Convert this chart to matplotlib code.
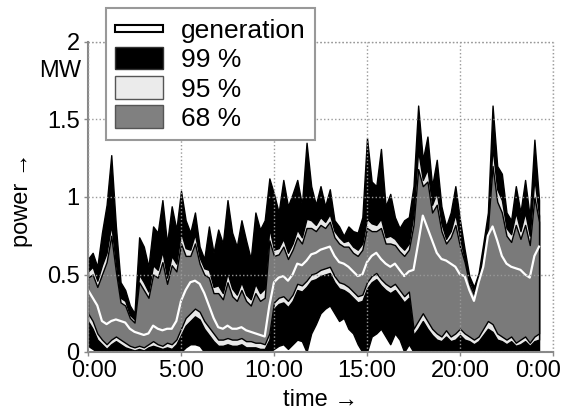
import numpy as np
import matplotlib
matplotlib.use('Agg')
import matplotlib.pyplot as plt
import matplotlib.patches as mpatches
import matplotlib.transforms as mtransforms
from matplotlib.legend_handler import HandlerPatch

plt.rcParams['font.family'] = ['Liberation Sans', 'DejaVu Sans']

# generation (white line) and quantile bands, 15 min steps from 0:00
gen = [0.40, 0.35, 0.30, 0.20, 0.18, 0.20, 0.21, 0.20, 0.19, 0.15,
       0.13, 0.12, 0.11, 0.12, 0.17, 0.15, 0.14, 0.15, 0.15, 0.20,
       0.33, 0.40, 0.45, 0.46, 0.44, 0.38, 0.30, 0.22, 0.16, 0.15,
       0.17, 0.15, 0.15, 0.16, 0.14, 0.13, 0.12, 0.11, 0.10, 0.30,
       0.45, 0.48, 0.49, 0.46, 0.50, 0.57, 0.56, 0.59, 0.63, 0.64,
       0.66, 0.67, 0.68, 0.62, 0.58, 0.57, 0.55, 0.52, 0.49, 0.50,
       0.58, 0.62, 0.64, 0.60, 0.57, 0.55, 0.57, 0.53, 0.49, 0.52,
       0.53, 0.70, 0.88, 0.80, 0.72, 0.64, 0.60, 0.59, 0.57, 0.55,
       0.50, 0.49, 0.40, 0.33, 0.45, 0.55, 0.75, 0.81, 0.72, 0.62,
       0.57, 0.55, 0.54, 0.53, 0.50, 0.48, 0.62, 0.68]

hi99 = [0.60, 0.64, 0.55, 0.77, 0.95, 1.27, 0.81, 0.45, 0.40, 0.30,
        0.25, 0.74, 0.68, 0.55, 0.81, 0.77, 0.98, 0.70, 0.94, 0.79,
        1.04, 0.85, 0.77, 0.90, 0.68, 0.60, 0.81, 0.64, 0.79, 0.70,
        0.98, 0.77, 0.68, 0.85, 0.72, 0.60, 0.90, 0.79, 0.85, 1.12,
        1.02, 0.90, 1.11, 0.94, 1.02, 1.11, 0.95, 1.35, 1.07, 0.95,
        1.07, 0.94, 1.05, 0.85, 0.81, 0.75, 0.81, 0.78, 0.77, 0.87,
        1.38, 1.10, 1.07, 1.31, 0.94, 1.02, 0.87, 0.80, 0.85, 0.87,
        1.07, 1.59, 1.24, 1.39, 1.07, 1.24, 0.94, 0.81, 0.90, 1.07,
        0.85, 0.66, 0.49, 0.42, 0.51, 0.70, 0.90, 1.59, 1.20, 1.15,
        0.90, 0.85, 1.07, 0.90, 1.11, 0.87, 1.37, 0.98]

hi95 = [0.52, 0.55, 0.46, 0.56, 0.64, 0.82, 0.57, 0.35, 0.33, 0.24,
        0.21, 0.50, 0.45, 0.39, 0.56, 0.53, 0.65, 0.48, 0.62, 0.57,
        0.77, 0.67, 0.66, 0.76, 0.61, 0.54, 0.53, 0.42, 0.43, 0.38,
        0.51, 0.41, 0.37, 0.45, 0.37, 0.34, 0.44, 0.38, 0.41, 0.80,
        0.66, 0.67, 0.73, 0.64, 0.70, 0.79, 0.74, 0.86, 0.85, 0.82,
        0.87, 0.84, 0.89, 0.78, 0.74, 0.71, 0.72, 0.68, 0.66, 0.70,
        0.86, 0.83, 0.82, 0.86, 0.74, 0.75, 0.73, 0.69, 0.66, 0.70,
        0.89, 1.30, 1.11, 1.18, 0.95, 1.03, 0.83, 0.73, 0.78, 0.89,
        0.73, 0.60, 0.46, 0.39, 0.49, 0.65, 0.84, 1.32, 1.05, 0.98,
        0.80, 0.76, 0.90, 0.78, 0.90, 0.75, 1.12, 0.88]

hi68 = [0.48, 0.50, 0.42, 0.50, 0.58, 0.75, 0.52, 0.32, 0.30, 0.22,
        0.19, 0.45, 0.40, 0.35, 0.50, 0.48, 0.58, 0.44, 0.56, 0.52,
        0.70, 0.62, 0.62, 0.70, 0.57, 0.50, 0.48, 0.38, 0.38, 0.34,
        0.45, 0.36, 0.33, 0.40, 0.33, 0.30, 0.38, 0.33, 0.35, 0.72,
        0.62, 0.63, 0.68, 0.60, 0.66, 0.74, 0.70, 0.80, 0.80, 0.78,
        0.82, 0.80, 0.84, 0.74, 0.70, 0.68, 0.68, 0.64, 0.62, 0.66,
        0.80, 0.78, 0.78, 0.80, 0.70, 0.70, 0.69, 0.65, 0.62, 0.66,
        0.82, 1.18, 1.07, 1.10, 0.90, 0.95, 0.78, 0.70, 0.74, 0.82,
        0.68, 0.58, 0.44, 0.37, 0.47, 0.62, 0.80, 1.20, 0.97, 0.90,
        0.75, 0.71, 0.82, 0.73, 0.82, 0.69, 1.00, 0.84]

lo68 = [0.25, 0.20, 0.12, 0.08, 0.05, 0.08, 0.10, 0.08, 0.06, 0.04,
        0.03, 0.04, 0.03, 0.05, 0.07, 0.05, 0.04, 0.06, 0.05, 0.08,
        0.15, 0.22, 0.25, 0.28, 0.26, 0.20, 0.16, 0.12, 0.08, 0.08,
        0.09, 0.08, 0.08, 0.09, 0.07, 0.07, 0.06, 0.06, 0.05, 0.12,
        0.32, 0.35, 0.36, 0.33, 0.37, 0.44, 0.43, 0.46, 0.50, 0.51,
        0.53, 0.54, 0.55, 0.49, 0.45, 0.44, 0.42, 0.39, 0.36, 0.37,
        0.45, 0.49, 0.51, 0.47, 0.44, 0.42, 0.44, 0.40, 0.36, 0.39,
        0.15, 0.20, 0.25, 0.20, 0.15, 0.12, 0.10, 0.14, 0.10, 0.12,
        0.15, 0.12, 0.10, 0.08, 0.10, 0.15, 0.20, 0.18, 0.12, 0.10,
        0.08, 0.10, 0.06, 0.08, 0.10, 0.06, 0.10, 0.12]

lo95 = [0.20, 0.15, 0.08, 0.05, 0.02, 0.05, 0.07, 0.05, 0.03, 0.02,
        0.01, 0.02, 0.01, 0.03, 0.04, 0.03, 0.02, 0.03, 0.02, 0.05,
        0.11, 0.17, 0.20, 0.23, 0.21, 0.15, 0.11, 0.07, 0.04, 0.04,
        0.05, 0.04, 0.04, 0.05, 0.03, 0.03, 0.03, 0.02, 0.02, 0.08,
        0.28, 0.31, 0.32, 0.29, 0.33, 0.40, 0.39, 0.42, 0.46, 0.47,
        0.49, 0.50, 0.51, 0.45, 0.41, 0.40, 0.38, 0.35, 0.32, 0.33,
        0.41, 0.45, 0.47, 0.43, 0.40, 0.38, 0.40, 0.36, 0.32, 0.35,
        0.11, 0.15, 0.20, 0.15, 0.11, 0.08, 0.07, 0.10, 0.07, 0.08,
        0.11, 0.08, 0.07, 0.05, 0.07, 0.11, 0.15, 0.13, 0.08, 0.07,
        0.05, 0.07, 0.04, 0.05, 0.07, 0.04, 0.07, 0.08]

lo99 = [0.04, 0.02, 0.00, 0.00, 0.00, 0.00, 0.00, 0.00, 0.00, 0.00,
        0.00, 0.00, 0.00, 0.00, 0.00, 0.00, 0.00, 0.00, 0.00, 0.00,
        0.00, 0.03, 0.05, 0.05, 0.04, 0.00, 0.00, 0.00, 0.00, 0.00,
        0.00, 0.00, 0.00, 0.00, 0.00, 0.00, 0.00, 0.00, 0.00, 0.00,
        0.02, 0.04, 0.05, 0.02, 0.05, 0.08, 0.07, 0.00, 0.12, 0.18,
        0.25, 0.28, 0.30, 0.25, 0.20, 0.22, 0.15, 0.12, 0.05, 0.00,
        0.00, 0.10, 0.12, 0.15, 0.10, 0.05, 0.12, 0.08, 0.00, 0.05,
        0.00, 0.00, 0.00, 0.00, 0.00, 0.00, 0.00, 0.00, 0.00, 0.00,
        0.00, 0.00, 0.00, 0.00, 0.00, 0.00, 0.00, 0.00, 0.00, 0.00,
        0.00, 0.00, 0.00, 0.00, 0.00, 0.00, 0.00, 0.00]

xticks = [0, 5, 10, 15, 20, 25]
xticklabels = ['0:00', '5:00', '10:00', '15:00', '20:00', '0:00']
yticks = [0, 0.5, 1, 1.5, 2]
yticklabels = ['0', '0.5', '1', '1.5', '2']

t = np.arange(len(gen)) * 0.25

fig = plt.figure(figsize=(5.73, 4.09), dpi=100)
ax = fig.add_axes([88/573, 1 - 352/409, 465/573, 310/409])

edge = dict(edgecolor='black', linewidth=1.0)
ax.fill_between(t, lo99, hi99, facecolor='black', **edge)
ax.fill_between(t, lo95, hi95, facecolor='#e8e8e8', **edge)
ax.fill_between(t, lo68, hi68, facecolor='#7a7a7a', **edge)
ax.plot(t, gen, color='white', linewidth=1.6)

ax.set_xlim(0, 25)
ax.set_ylim(0, 2)
ax.set_xticks(xticks)
ax.set_xticklabels(xticklabels)
ax.set_yticks(yticks)
ax.set_yticklabels(yticklabels)
ax.tick_params(labelsize=17, length=3, width=1, color='#888888', pad=3)
ax.grid(True, linestyle=':', color='#999999', linewidth=1)
ax.set_axisbelow(False)
for s in ['top', 'right']:
    ax.spines[s].set_visible(False)
for s in ['left', 'bottom']:
    ax.spines[s].set_color('#888888')
    ax.spines[s].set_linewidth(1.5)
ax.axhline(2, color='#999999', linestyle=':', linewidth=1, clip_on=False)
ax.axvline(25, color='#999999', linestyle=':', linewidth=1, clip_on=False)

# first and last time labels sit a little inside the axis ends
xlabels = ax.get_xticklabels()
xlabels[0].set_transform(xlabels[0].get_transform()
                         + mtransforms.ScaledTranslation(6/100, 0, fig.dpi_scale_trans))
xlabels[-1].set_transform(xlabels[-1].get_transform()
                          + mtransforms.ScaledTranslation(-15/100, 0, fig.dpi_scale_trans))

ax.text(-0.015, 1.81, 'MW', transform=ax.get_yaxis_transform(),
        ha='right', va='center', fontsize=17)
ax.set_ylabel('power \u2192', fontsize=17)
ax.yaxis.set_label_coords(-0.118, 0.49)
ax.set_xlabel('time \u2192', fontsize=17)
ax.xaxis.set_label_coords(0.5, -0.12)


def thin_patch(legend, orig_handle, xdescent, ydescent, width, height, fontsize):
    return mpatches.Rectangle((-xdescent, -ydescent + height * 0.35), width, height * 0.3)


h_gen = mpatches.Rectangle((0, 0), 1, 1, facecolor='white', edgecolor='black', linewidth=1.5)
h99 = mpatches.Patch(facecolor='black', edgecolor='#333333', linewidth=1)
h95 = mpatches.Patch(facecolor='#ebebeb', edgecolor='#555555', linewidth=1)
h68 = mpatches.Patch(facecolor='#808080', edgecolor='#555555', linewidth=1)
leg = ax.legend([h_gen, h99, h95, h68], ['generation', '99 %', '95 %', '68 %'],
                handler_map={h_gen: HandlerPatch(patch_func=thin_patch)},
                loc='upper left', bbox_to_anchor=(106/573, 1 - 8/409),
                bbox_transform=fig.transFigure, borderaxespad=0,
                fontsize=19, handlelength=1.8, handleheight=0.95,
                labelspacing=0.15, handletextpad=0.7, borderpad=0.35,
                fancybox=False, framealpha=1)
leg.get_frame().set_edgecolor('#999999')
leg.get_frame().set_linewidth(1.5)

fig.savefig('out.png', dpi=100)
